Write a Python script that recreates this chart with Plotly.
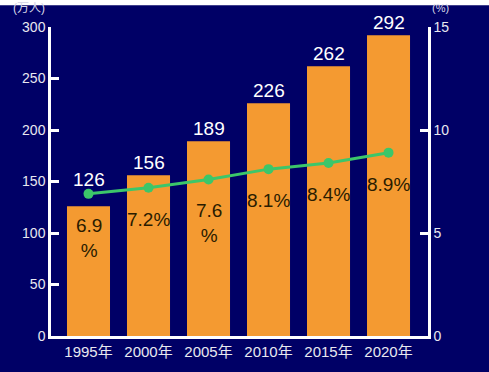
import plotly.graph_objects as go

years = ["1995年", "2000年", "2005年", "2010年", "2015年", "2020年"]
people = [126, 156, 189, 226, 262, 292]          # 万人
share = [6.9, 7.2, 7.6, 8.1, 8.4, 8.9]            # %
share_labels = ["6.9<br>%", "7.2%", "7.6<br>%", "8.1%", "8.4%", "8.9%"]
y_ticks = [0, 50, 100, 150, 200, 250, 300]
y2_ticks = [0, 5, 10, 15]

NAVY = "#000066"
ORANGE = "#F49A31"
GREEN = "#3CC66A"
REG = "Liberation Sans, Arial, Noto Sans CJK JP, sans-serif"

fig = go.Figure()
fig.add_trace(go.Bar(x=years, y=people, marker=dict(color=ORANGE, line=dict(width=0)),
                     hoverinfo="skip", showlegend=False))
fig.add_trace(go.Scatter(x=years, y=share, yaxis="y2", mode="lines+markers",
                         line=dict(color=GREEN, width=3),
                         marker=dict(color=GREEN, size=10),
                         hoverinfo="skip", showlegend=False))

annotations = []
for i, (yr, v) in enumerate(zip(years, people)):
    annotations.append(dict(x=yr, y=v, xref="x", yref="y", text=str(v), showarrow=False,
                            yanchor="bottom", yshift=14 if i == 0 else 0,
                            font=dict(family=REG, size=19, color="white")))
for yr, v, lab in zip(years, share, share_labels):
    annotations.append(dict(x=yr, y=v, xref="x", yref="y2", text=lab, showarrow=False,
                            yanchor="top", yshift=-19,
                            font=dict(family=REG, size=19, color="#2A1C00")))
annotations.append(dict(x=-0.105, y=1.06, xref="paper", yref="paper", text="(万人)",
                        showarrow=False, xanchor="left", yanchor="middle",
                        font=dict(family=REG, size=12, color="#d8d8e8")))
annotations.append(dict(x=1.005, y=1.06, xref="paper", yref="paper", text="(%)",
                        showarrow=False, xanchor="left", yanchor="middle",
                        font=dict(family=REG, size=11, color="#d8d8e8")))

fig.update_layout(
    width=489, height=372,
    margin=dict(l=51, r=61, t=27, b=32),
    paper_bgcolor=NAVY, plot_bgcolor=NAVY,
    bargap=0.283,
    xaxis=dict(type="category", range=[-0.625, 5.658], showgrid=False, zeroline=False,
               showline=True, linecolor="white", linewidth=2.5, ticks="",
               tickfont=dict(family=REG, size=15, color="#e8e8f0")),
    yaxis=dict(range=[0, 300], tickvals=y_ticks, showgrid=False, zeroline=False,
               showline=True, linecolor="white", linewidth=2.5,
               ticks="inside", ticklen=8, tickwidth=2.5, tickcolor="white",
               tickfont=dict(family=REG, size=14, color="#e8e8f0")),
    yaxis2=dict(range=[0, 15], tickvals=y2_ticks, overlaying="y", side="right",
                showgrid=False, zeroline=False,
                showline=True, linecolor="white", linewidth=2.5,
                ticks="inside", ticklen=8, tickwidth=2.5, tickcolor="white",
                tickfont=dict(family=REG, size=14, color="#e8e8f0")),
    annotations=annotations,
    shapes=[dict(type="rect", xref="paper", yref="paper", x0=-0.3, x1=1.3,
                 y0=1.0703, y1=1.2, fillcolor="white", line=dict(width=0), layer="above")],
)

fig.write_html("out.html", config={"displayModeBar": False},
               post_script="document.body.style.margin='0';document.body.style.overflow='hidden';")
